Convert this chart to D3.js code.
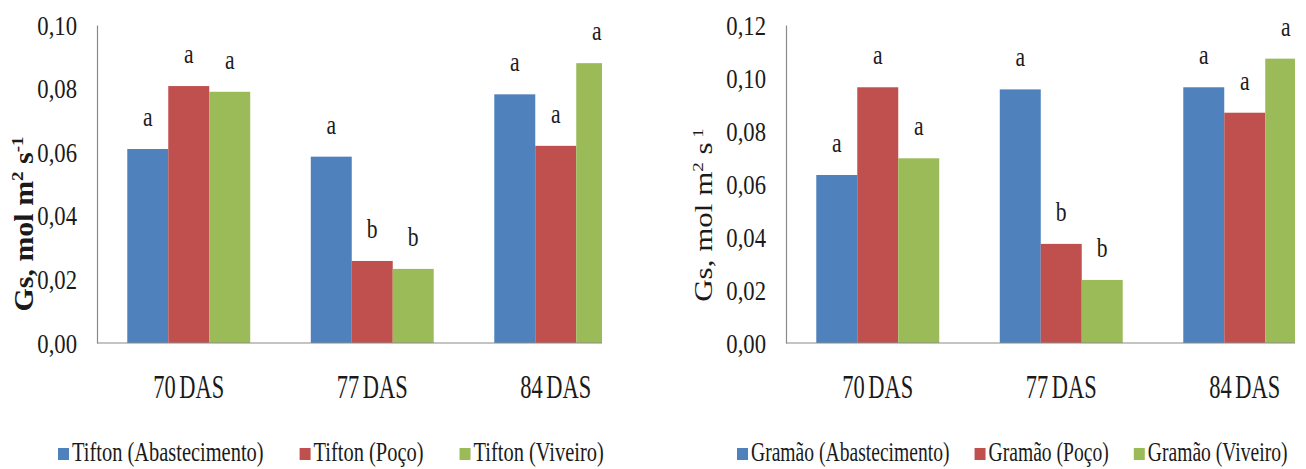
<!DOCTYPE html>
<html>
<head>
<meta charset="utf-8">
<script src="https://cdn.jsdelivr.net/npm/d3@7"></script>
<style>
  html, body { margin: 0; padding: 0; background: #fff; }
  svg { display: block; }
</style>
</head>
<body>
<svg id="chart" width="1306" height="469"></svg>
<script>
// ---------- data ----------
const categories = ["70 DAS", "77 DAS", "84 DAS"];

const tiftonNames = ["Tifton (Abastecimento)", "Tifton (Poço)", "Tifton (Viveiro)"];
const tiftonAbastecimento = [0.0610, 0.0586, 0.0782];
const tiftonPoco          = [0.0808, 0.0258, 0.0620];
const tiftonViveiro       = [0.0790, 0.0233, 0.0880];
const tiftonLettersAbast  = ["a", "a", "a"];
const tiftonLettersPoco   = ["a", "b", "a"];
const tiftonLettersViv    = ["a", "b", "a"];
const tiftonTicks = [0, 0.02, 0.04, 0.06, 0.08, 0.10];

const gramaoNames = ["Gramão (Abastecimento)", "Gramão (Poço)", "Gramão (Viveiro)"];
const gramaoAbastecimento = [0.0634, 0.0957, 0.0965];
const gramaoPoco          = [0.0965, 0.0374, 0.0869];
const gramaoViveiro       = [0.0697, 0.0238, 0.1073];
const gramaoLettersAbast  = ["a", "a", "a"];
const gramaoLettersPoco   = ["a", "b", "a"];
const gramaoLettersViv    = ["a", "b", "a"];
const gramaoTicks = [0, 0.02, 0.04, 0.06, 0.08, 0.10, 0.12];

const colors = ["#4F81BD", "#C0504D", "#9BBB59"];
const FONT = "'Liberation Serif', 'DejaVu Serif', serif";

// ---------- drawing ----------
const svg = d3.select("#chart");
const fmt = v => d3.format(".2f")(v).replace(".", ",");

function drawPanel(opt) {
  const g = svg.append("g");
  const series = opt.names.map((n, i) => ({ name: n, values: opt.values[i], letters: opt.letters[i], color: colors[i] }));

  const x0 = d3.scaleBand().domain(categories)
    .range([opt.left, opt.left + opt.step * categories.length])
    .paddingInner(0.33).paddingOuter(0.165);
  const x1 = d3.scaleBand().domain(d3.range(series.length)).range([0, x0.bandwidth()]);
  const y = d3.scaleLinear().domain([0, opt.ymax]).range([opt.bottom, opt.top]);

  const clipId = "clip" + opt.id;
  svg.append("clipPath").attr("id", clipId).append("rect")
    .attr("x", opt.left).attr("y", 0).attr("width", opt.clipRight - opt.left).attr("height", opt.bottom + 1);

  const bars = g.append("g").attr("clip-path", `url(#${clipId})`);
  series.forEach((s, si) => {
    bars.selectAll(null).data(categories).enter().append("rect")
      .attr("x", c => x0(c) + x1(si))
      .attr("y", (c, i) => y(s.values[i]))
      .attr("width", x1.bandwidth())
      .attr("height", (c, i) => y(0) - y(s.values[i]))
      .attr("fill", s.color);
  });

  // letters
  series.forEach((s, si) => {
    g.selectAll(null).data(categories).enter().append("text")
      .attr("transform", (c, i) => `translate(${x0(c) + x1(si) + x1.bandwidth() / 2},${y(s.values[i]) - 23}) scale(0.8,1)`)
      .attr("text-anchor", "middle")
      .style("font-size", "27px")
      .text((c, i) => s.letters[i]);
  });

  // axes lines
  const yAxis = d3.axisLeft(y).tickValues(opt.ticks).tickSize(0).tickPadding(0).tickFormat(fmt);
  const ya = g.append("g").attr("transform", `translate(${opt.left},0)`).call(yAxis);
  ya.select(".domain").attr("stroke", "#8a8a8a").attr("stroke-width", 1.2);
  ya.selectAll("text").remove();
  ya.selectAll(".tick").append("text")
    .attr("transform", `translate(-20,9) scale(0.84,1)`)
    .attr("text-anchor", "end")
    .style("font-size", "27px")
    .text(d => fmt(d));

  g.append("line")
    .attr("x1", opt.left).attr("x2", opt.clipRight)
    .attr("y1", y(0)).attr("y2", y(0))
    .attr("stroke", "#8a8a8a").attr("stroke-width", 1.2);

  // category labels
  g.selectAll(null).data(categories).enter().append("text")
    .attr("transform", c => `translate(${x0(c) + x0.bandwidth() / 2},${opt.bottom + 55}) scale(0.66,1)`)
    .attr("text-anchor", "middle")
    .style("font-size", "34px")
    .style("word-spacing", "-3px")
    .text(c => c);

  // y label
  const yl = g.append("text")
    .attr("transform", `translate(${opt.ylabelX},${(opt.top + opt.bottom) / 2 + opt.ylabelDy}) rotate(-90) scale(1,${opt.ylabelK})`)
    .attr("text-anchor", "middle")
    .style("font-size", opt.ylabelSize + "px")
    .style("font-weight", opt.ylabelWeight);
  yl.append("tspan").text("Gs, mol m");
  yl.append("tspan").attr("dy", -11).style("font-size", "19px").text("2");
  yl.append("tspan").attr("dy", 11).text(" s");
  yl.append("tspan").attr("dy", -11).style("font-size", "19px").text(opt.supText);

  // legend
  const lg = g.append("g").attr("transform", `translate(${opt.legendX},${opt.legendY})`);
  let cx = 0;
  series.forEach((s, si) => {
    lg.append("rect").attr("x", cx).attr("y", -13).attr("width", 11).attr("height", 12).attr("fill", s.color);
    const t = lg.append("text")
      .attr("transform", `translate(${cx + 14},0) scale(${opt.legendK},1)`)
      .style("font-size", "28px")
      .style("font-family", FONT)
      .text(s.name);
    const w = t.node().getComputedTextLength() * opt.legendK;
    cx += 14 + w + opt.legendGap;
  });
}

drawPanel({
  id: "L", left: 97, top: 25, bottom: 343, step: 183.5, clipRight: 602, ymax: 0.10,
  ticks: tiftonTicks, names: tiftonNames,
  values: [tiftonAbastecimento, tiftonPoco, tiftonViveiro],
  letters: [tiftonLettersAbast, tiftonLettersPoco, tiftonLettersViv],
  ylabelX: 33, ylabelDy: 40, ylabelK: 0.9, ylabelSize: 30, ylabelWeight: "bold", supText: "-1",
  legendX: 58, legendY: 461, legendGap: 36, legendK: 0.73
});

drawPanel({
  id: "R", left: 786, top: 25, bottom: 343, step: 183.5, clipRight: 1295, ymax: 0.12,
  ticks: gramaoTicks, names: gramaoNames,
  values: [gramaoAbastecimento, gramaoPoco, gramaoViveiro],
  letters: [gramaoLettersAbast, gramaoLettersPoco, gramaoLettersViv],
  ylabelX: 712, ylabelDy: 31, ylabelK: 0.8, ylabelSize: 31, ylabelWeight: "normal", supText: " 1",
  legendX: 737, legendY: 461, legendGap: 25, legendK: 0.70
});

svg.selectAll("text").style("font-family", FONT).attr("fill", "#1a1a1a");
</script>
</body>
</html>
